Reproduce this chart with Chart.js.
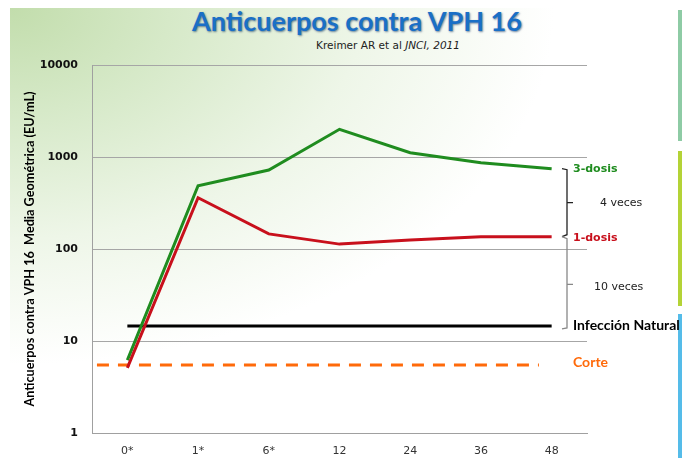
<!DOCTYPE html>
<html>
<head>
<meta charset="utf-8">
<script src="https://cdn.jsdelivr.net/npm/chart.js@4/dist/chart.umd.min.js"></script>
<style>
  html, body { margin: 0; padding: 0; background: #ffffff; }
  #wrap { position: relative; width: 690px; height: 458px; overflow: hidden; background: #fff; }
  #bg { position: absolute; left: 10px; top: 8px; width: 655px; height: 450px;
        background: radial-gradient(ellipse 640px 420px at 0 0, #c2ddac 0%, #d6e9c8 25%, #eef6e8 55%, #ffffff 85%); }
  .bar { position: absolute; left: 678px; width: 4px; }
  #title { position: absolute; left: 0; width: 714px; top: 4px; text-align: center;
           font-family: Lato, sans-serif; font-weight: 700; font-size: 27px; color: #1a6fc6;
           text-shadow: 1px 1px 2px rgba(0,40,90,0.55); }
  #subtitle { position: absolute; left: 0; width: 776px; top: 39px; text-align: center;
              font-family: "DejaVu Sans", sans-serif; font-size: 10.5px; color: #222; }
  canvas { position: absolute; left: 0; top: 0; }
</style>
</head>
<body>
<div id="wrap">
  <div id="bg"></div>
  <div class="bar" style="top:10px;height:131px;background:#8ecba5;"></div>
  <div class="bar" style="top:151px;height:155px;background:#b4d336;"></div>
  <div class="bar" style="top:314px;height:144px;background:#55bce9;"></div>
  <div id="title">Anticuerpos contra VPH 16</div>
  <div id="subtitle">Kreimer AR et al <i>JNCI, 2011</i></div>
  <canvas id="c" width="690" height="458"></canvas>
</div>
<script>
// ---- data ----
const categories = ['0*', '1*', '6*', '12', '24', '36', '48'];
const dosis3 = [6.2, 487, 722, 2000, 1114, 867, 746];
const dosis1 = [5.1, 361, 146, 113, 125, 136, 136];
const naturalLevel = 14.6;
const naturalSpan = [0, 6];
const corteLevel = 5.5;
const corteSpan = [-0.43, 5.82];
const yTicks = [1, 10, 100, 1000, 10000];
const seriesLabels = ['3-dosis', '1-dosis', 'Infección Natural', 'Corte'];
const foldLabels = ['4 veces', '10 veces'];
const yTitle = 'Anticuerpos contra VPH 16  Media Geométrica (EU/mL)';

const GREEN = '#1f8c1f', RED = '#c8101c', ORANGE = '#ff6a0a';

const annot = {
  id: 'annot',
  afterDatasetsDraw(chart) {
    const ctx = chart.ctx;
    const y = chart.scales.y;
    const ca = chart.chartArea;
    const y3 = y.getPixelForValue(dosis3[dosis3.length - 1]);
    const y1 = y.getPixelForValue(dosis1[dosis1.length - 1]);
    const yn = y.getPixelForValue(naturalLevel);
    const yc = y.getPixelForValue(corteLevel);
    const bx = ca.right - 20;
    ctx.save();
    ctx.lineWidth = 1.3;
    // black bracket
    ctx.strokeStyle = '#222';
    ctx.beginPath();
    ctx.moveTo(bx - 5, y3); ctx.lineTo(bx, y3 + 1); ctx.lineTo(bx, y1 - 2); ctx.lineTo(bx - 5, y1);
    ctx.moveTo(bx, (y3 + y1) / 2); ctx.lineTo(bx + 6, (y3 + y1) / 2);
    ctx.stroke();
    // grey bracket
    ctx.strokeStyle = '#888';
    ctx.beginPath();
    ctx.moveTo(bx - 5, y1); ctx.lineTo(bx, y1 + 2); ctx.lineTo(bx, yn + 2); ctx.lineTo(bx - 5, yn + 3);
    ctx.moveTo(bx, (y1 + yn) / 2 + 3); ctx.lineTo(bx + 6, (y1 + yn) / 2 + 3);
    ctx.stroke();
    // labels
    ctx.textBaseline = 'middle';
    ctx.textAlign = 'left';
    const lx = ca.right - 14;
    ctx.font = 'bold 11px "DejaVu Sans"';
    ctx.fillStyle = GREEN; ctx.fillText(seriesLabels[0], lx, y3);
    ctx.fillStyle = RED; ctx.fillText(seriesLabels[1], lx, y1 + 1);
    ctx.font = 'bold 14px Lato';
    ctx.fillStyle = '#000'; ctx.fillText(seriesLabels[2], lx, yn);
    ctx.fillStyle = ORANGE; ctx.fillText(seriesLabels[3], lx, yc - 2);
    ctx.font = '11px "DejaVu Sans"';
    ctx.fillStyle = '#222';
    ctx.fillText(foldLabels[0], ca.right + 13, (y3 + y1) / 2);
    ctx.fillText(foldLabels[1], ca.right + 7, (y1 + yn) / 2 + 6);
    ctx.restore();
  }
};

new Chart(document.getElementById('c'), {
  type: 'line',
  data: {
    labels: categories,
    datasets: [
      { label: seriesLabels[1], data: dosis1, borderColor: RED, borderWidth: 3, pointRadius: 0, order: 0, xAxisID: 'x' },
      { label: seriesLabels[0], data: dosis3, borderColor: GREEN, borderWidth: 3, pointRadius: 0, order: 1, xAxisID: 'x' },
      { label: seriesLabels[2], data: naturalSpan.map(v => ({ x: v, y: naturalLevel })), borderColor: '#000', borderWidth: 3, pointRadius: 0, order: 2, xAxisID: 'xl' },
      { label: seriesLabels[3], data: corteSpan.map(v => ({ x: v, y: corteLevel })), borderColor: ORANGE, borderWidth: 3, borderDash: [12, 9], pointRadius: 0, order: 3, xAxisID: 'xl' }
    ]
  },
  options: {
    responsive: false,
    animation: false,
    layout: { padding: { left: 0, right: 103, top: 65, bottom: 0 } },
    plugins: { legend: { display: false }, tooltip: { enabled: false }, title: { display: false } },
    scales: {
      x: {
        type: 'category',
        offset: true,
        grid: { display: false, drawTicks: false },
        border: { display: true, color: '#a0a0a0', width: 1 },
        ticks: { color: '#333', font: { family: 'DejaVu Sans', size: 11 }, padding: 12, maxRotation: 0 },
        afterFit(s) { s.height = 25; }
      },
      xl: {
        type: 'linear', display: false, min: -0.5, max: 6.5
      },
      y: {
        type: 'logarithmic',
        min: 1, max: 10000,
        afterBuildTicks(s) { s.ticks = yTicks.map(v => ({ value: v })); },
        grid: { color: '#a6a6a6', lineWidth: 1, drawTicks: false },
        border: { display: true, color: '#a0a0a0', width: 1 },
        ticks: { color: '#111', font: { family: 'DejaVu Sans', size: 11, weight: 'bold' }, padding: 14,
                 callback: (v) => String(v) },
        title: { display: true, text: yTitle, color: '#000', font: { family: 'Lato', size: 12.7, weight: 'bold' }, padding: { top: 22, bottom: 0 } },
        afterFit(s) { s.width = 92; }
      }
    }
  },
  plugins: [annot]
});
</script>
</body>
</html>
